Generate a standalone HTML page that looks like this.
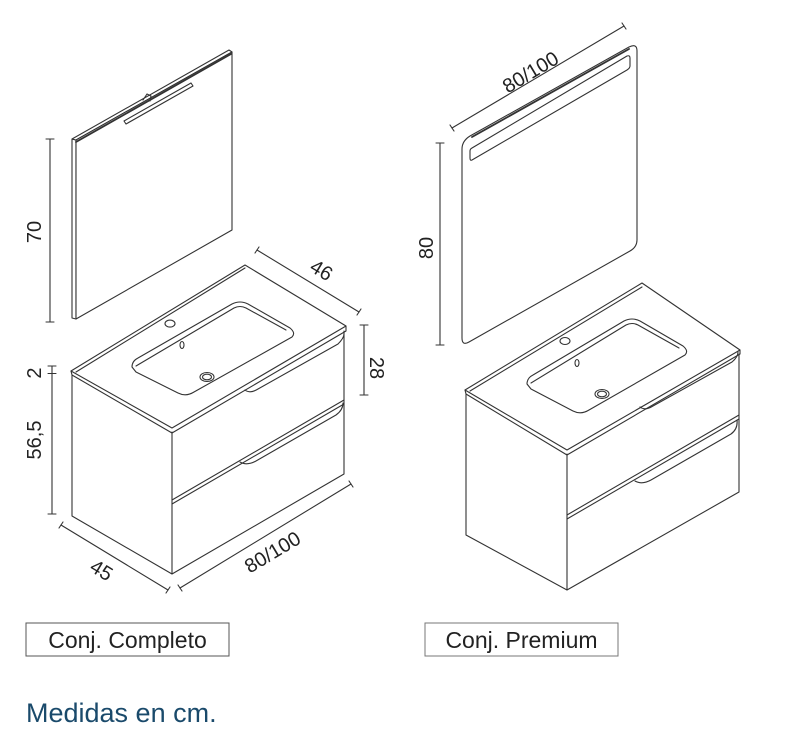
<!DOCTYPE html>
<html><head><meta charset="utf-8"><style>
html,body{margin:0;padding:0;background:#fff;}
svg{display:block;}
text{font-family:"Liberation Sans",sans-serif;fill:#222;}
</style></head><body>
<svg width="785" height="745" viewBox="0 0 785 745" xmlns="http://www.w3.org/2000/svg">
<g fill="none" stroke="#333" stroke-width="1.1" stroke-linejoin="round" stroke-linecap="round">
<!-- LEFT MIRROR -->
<polygon points="72,139 76,140 76,319 72,318" fill="#fff"/>
<polygon points="72,139 229,50 232,52 76,140" fill="#fff"/>
<polygon points="76,140 232,52 232,230 76,319" fill="#fff"/>
<line x1="76" y1="142" x2="231" y2="54" stroke-width="1.8"/>
<polygon points="124,121 191,83 193,86 126,124"/>
<path d="M143,100 l4,-6 l4,2 l-1,5"/>
<!-- dim 70 -->
<line x1="50" y1="139" x2="50" y2="322"/>
<line x1="46" y1="139" x2="54" y2="139"/><line x1="46" y1="322" x2="54" y2="322"/>
<!-- LEFT VANITY -->
<polygon points="71,371 245,265 346,326 172,428" fill="#fff"/>
<path d="M71,371 L72,375 L172,433 L346,331 L346,326"/>
<path d="M72,375 L72,516 L172,574 L344,474 L344,331"/>
<line x1="172" y1="432" x2="172" y2="574"/>
<line x1="172" y1="500" x2="344" y2="400"/>
<line x1="172" y1="504" x2="344" y2="404"/>
<path d="M245,390 Q250,394 258,389 L338,344 Q344,338 344,334"/>
<path d="M240,462 Q247,466 256,461 L336,415 Q343,410 343,403"/>
<path d="M76,372 L245,268"/>
<!-- basin -->
<path d="M132,367 Q132,361 138,358 L232,304 Q240,300 248,304 L290,328 Q296,333 292,337 L194,392 Q186,397 178,393 L136,372 Z"/>
<path d="M136,366 L234,308 Q240,305 246,308 L286,330"/>
<ellipse cx="170" cy="323.6" rx="5" ry="3.5"/>
<ellipse cx="182" cy="345" rx="2" ry="3.5"/>
<ellipse cx="207" cy="377" rx="7" ry="4.5"/><ellipse cx="207" cy="377" rx="4.5" ry="2.8"/>
<!-- dims -->
<line x1="257" y1="250" x2="359" y2="312"/>
<line x1="255" y1="253" x2="259" y2="247"/><line x1="357" y1="315" x2="361" y2="309"/>
<line x1="364" y1="325" x2="364" y2="395"/>
<line x1="360" y1="325" x2="368" y2="325"/><line x1="360" y1="395" x2="368" y2="395"/>
<line x1="52" y1="366" x2="52" y2="514"/>
<line x1="48" y1="366" x2="56" y2="366"/><line x1="48" y1="373.5" x2="56" y2="373.5"/><line x1="48" y1="514" x2="56" y2="514"/>
<line x1="61" y1="525" x2="168" y2="590"/>
<line x1="59" y1="528" x2="63" y2="522"/><line x1="166" y1="593" x2="170" y2="587"/>
<line x1="180" y1="588" x2="351" y2="484"/>
<line x1="178" y1="585" x2="182" y2="591"/><line x1="349" y1="481" x2="353" y2="487"/>

<!-- RIGHT MIRROR -->
<path d="M470,136 L629,47 Q637,43 637,51 L637,240 Q637,247 630,251 L469,342 Q462,346 462,338 L462,149 Q462,141 470,136 Z" fill="#fff"/>
<line x1="472" y1="137" x2="629" y2="49" stroke-width="1.8"/>
<path d="M472,148 L627,56 Q630,55 630,58 L630,66 Q630,68 627,70 L472,160 Q470,161 470,158 L470,151 Q470,149 472,148 Z"/>
<line x1="440" y1="143" x2="440" y2="345"/>
<line x1="436" y1="143" x2="444" y2="143"/><line x1="436" y1="345" x2="444" y2="345"/>
<line x1="452" y1="128" x2="624" y2="26"/>
<line x1="450" y1="125" x2="454" y2="131"/><line x1="622" y1="23" x2="626" y2="29"/>
<!-- RIGHT VANITY -->
<polygon points="465,390 642,283 740,350 567,450" fill="#fff"/>
<path d="M465,390 L466,394 L567,455 L740,354 L740,350"/>
<path d="M466,394 L466,535 L567,590 L739,492 L739,354"/>
<line x1="567" y1="454" x2="567" y2="590"/>
<line x1="567" y1="515" x2="739" y2="415"/>
<line x1="567" y1="519" x2="739" y2="419"/>
<path d="M640,407 Q645,411 653,406 L732,362 Q738,357 738,352"/>
<path d="M635,481 Q642,485 651,480 L731,434 Q738,429 737,420"/>
<path d="M470,391 L642,287"/>
<path d="M527,384 Q527,378 533,375 L624,321 Q632,317 640,321 L683,346 Q689,351 685,355 L589,410 Q581,415 573,411 L531,389 Z"/>
<path d="M531,383 L626,325 Q632,322 638,325 L679,348"/>
<ellipse cx="565" cy="341" rx="5" ry="3.5"/>
<ellipse cx="577" cy="363" rx="2" ry="3.5"/>
<ellipse cx="602" cy="394" rx="7" ry="4.5"/><ellipse cx="602" cy="394" rx="4.5" ry="2.8"/>
</g>
<!-- dim labels -->
<text x="0" y="0" font-size="20" transform="translate(41,232) rotate(-90)" text-anchor="middle">70</text>
<text x="0" y="0" font-size="20" transform="translate(41,373) rotate(-90)" text-anchor="middle">2</text>
<text x="0" y="0" font-size="20" transform="translate(41,440) rotate(-90)" text-anchor="middle">56,5</text>
<text x="0" y="0" font-size="20" transform="translate(370,368) rotate(90)" text-anchor="middle">28</text>
<text x="0" y="0" font-size="20" transform="translate(318,276) rotate(31)" text-anchor="middle">46</text>
<text x="0" y="0" font-size="20" transform="translate(98,576) rotate(31)" text-anchor="middle">45</text>
<text x="0" y="0" font-size="20" transform="translate(276,558) rotate(-31)" text-anchor="middle">80/100</text>
<text x="0" y="0" font-size="20" transform="translate(433,248) rotate(-90)" text-anchor="middle">80</text>
<text x="0" y="0" font-size="20" transform="translate(534,78) rotate(-31)" text-anchor="middle">80/100</text>
<!-- label boxes -->
<rect x="26" y="623" width="203" height="33" fill="#fff" stroke="#555" stroke-width="1"/>
<text x="127.5" y="648" font-size="23" text-anchor="middle" fill="#222">Conj. Completo</text>
<rect x="425" y="623" width="193" height="33" fill="#fff" stroke="#777" stroke-width="1"/>
<text x="521.5" y="648" font-size="23" text-anchor="middle" fill="#222">Conj. Premium</text>
<text x="26" y="722" font-size="27" style="fill:#1a4a6b">Medidas en cm.</text>
</svg>
</body></html>
